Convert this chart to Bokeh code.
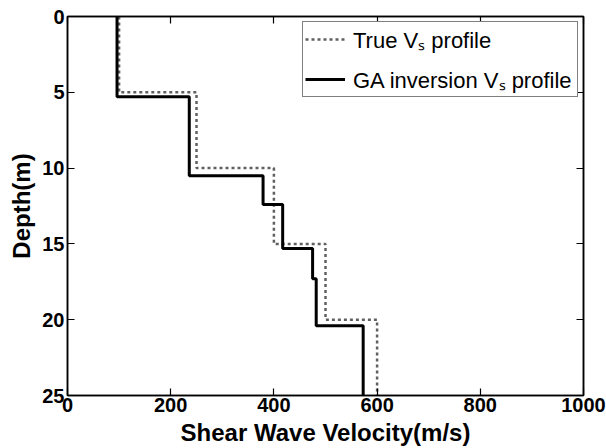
from bokeh.plotting import figure
from bokeh.models import Range1d, FixedTicker, LinearAxis, Legend, LegendItem
from bokeh.embed import file_html
from bokeh.resources import INLINE

# Layer data (depth boundaries in m, shear wave velocity in m/s)
true_bounds = [0, 5, 10, 15, 20, 25]
true_vs = [100, 250, 400, 500, 600]

ga_bounds = [0, 5.3, 10.5, 12.4, 15.3, 17.3, 20.4, 25]
ga_vs = [96, 236, 379, 417, 475, 482, 573]

x_ticks = [0, 200, 400, 600, 800, 1000]
y_ticks = [0, 5, 10, 15, 20, 25]


def step_profile(bounds, vs):
    xs, ys = [], []
    for i, v in enumerate(vs):
        xs += [v, v]
        ys += [bounds[i], bounds[i + 1]]
    return xs, ys


FONT = "Liberation Sans"

p = figure(width=606, height=448, output_backend="svg", toolbar_location=None,
           x_range=Range1d(0, 1000), y_range=Range1d(25, 0),
           min_border_left=67, min_border_right=23, min_border_top=16, min_border_bottom=50)
p.background_fill_color = "white"
p.border_fill_color = "white"
p.outline_line_color = "black"
p.outline_line_width = 1.5
p.xgrid.visible = False
p.ygrid.visible = False

tx, ty = step_profile(true_bounds, true_vs)
gx, gy = step_profile(ga_bounds, ga_vs)

r_true = p.line(tx, ty, line_color="#606060", line_width=2.5, line_dash="3 3")
r_ga = p.line(gx, gy, line_color="black", line_width=3)

for ax in (p.xaxis[0], p.yaxis[0]):
    ax.major_tick_in = 7
    ax.major_tick_out = 0
    ax.minor_tick_line_color = None
    ax.axis_line_width = 1.5
    ax.major_tick_line_width = 1.2
    ax.major_label_text_font = FONT
    ax.major_label_text_font_style = "bold"
    ax.major_label_text_font_size = "20px"
    ax.major_label_text_color = "black"
    ax.axis_label_text_font = FONT
    ax.axis_label_text_font_style = "bold"
    ax.axis_label_text_font_size = "24px"
    ax.axis_label_text_color = "black"
    ax.major_label_standoff = 3

p.xaxis[0].major_label_standoff = 2
p.xaxis[0].axis_label_standoff = 4
p.yaxis[0].axis_label_standoff = 4
p.xaxis[0].ticker = FixedTicker(ticks=x_ticks)
p.yaxis[0].ticker = FixedTicker(ticks=y_ticks)
p.xaxis[0].axis_label = "Shear Wave Velocity(m/s)"
p.yaxis[0].axis_label = "Depth(m)"

# Mirror axes on top/right: ticks only, no labels
top_ax = LinearAxis(ticker=FixedTicker(ticks=x_ticks), major_tick_in=7, major_tick_out=0,
                    minor_tick_line_color=None, major_label_text_color=None,
                    major_label_text_font_size="1px",
                    axis_line_width=1.5, major_tick_line_width=1.2)
right_ax = LinearAxis(ticker=FixedTicker(ticks=y_ticks), major_tick_in=7, major_tick_out=0,
                      minor_tick_line_color=None, major_label_text_color=None,
                      major_label_text_font_size="1px",
                      axis_line_width=1.5, major_tick_line_width=1.2)
p.add_layout(top_ax, "above")
p.add_layout(right_ax, "right")

legend = Legend(items=[LegendItem(label="True Vₛ profile", renderers=[r_true]),
                       LegendItem(label="GA inversion Vₛ profile", renderers=[r_ga])],
                location="top_right", margin=5, padding=2, spacing=10,
                glyph_width=40, glyph_height=22, label_height=22, label_standoff=8,
                label_width=222,
                label_text_font=FONT, label_text_font_size="22px", label_text_color="black",
                border_line_color="black", border_line_width=1.5,
                background_fill_color="white", background_fill_alpha=1)
p.add_layout(legend)

open("out.html", "w").write(file_html(p, INLINE))
